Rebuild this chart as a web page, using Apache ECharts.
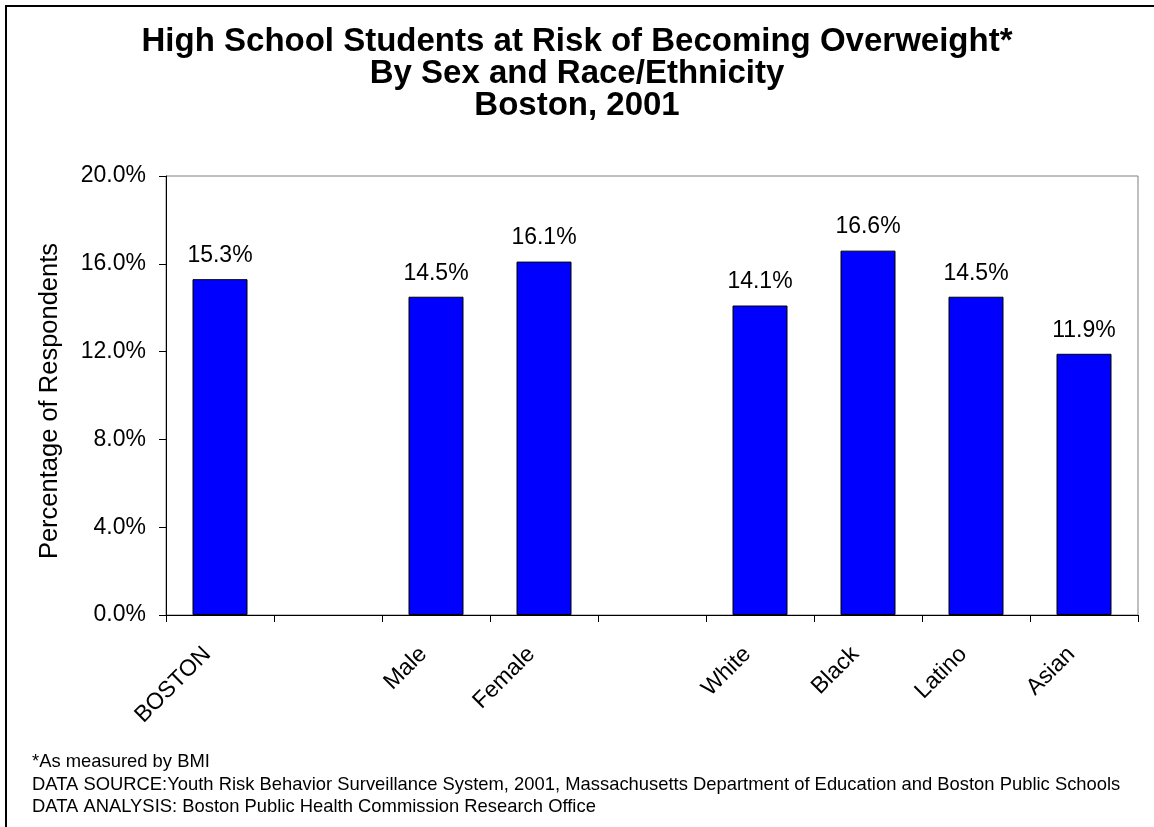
<!DOCTYPE html>
<html><head><meta charset="utf-8">
<script src="https://cdn.jsdelivr.net/npm/echarts@6/dist/echarts.min.js"></script>
<style>html,body{margin:0;padding:0;background:#fff}#c{width:1154px;height:827px}</style>
</head><body><div id="c"></div>
<script>
var categories = ['BOSTON', '', 'Male', 'Female', '', 'White', 'Black', 'Latino', 'Asian'];
var values = [15.3, null, 14.5, 16.1, null, 14.1, 16.6, 14.5, 11.9];
var titleLines = ['High School Students at Risk of Becoming Overweight*', 'By Sex and Race/Ethnicity', 'Boston, 2001'];
var footnotes = ['*As measured by BMI',
  'DATA SOURCE:Youth Risk Behavior Surveillance System, 2001, Massachusetts Department of Education and Boston Public Schools',
  'DATA ANALYSIS: Boston Public Health Commission Research Office'];
var yAxisName = 'Percentage of Respondents';

var font = 'Liberation Sans, Arial, sans-serif';
var chart = echarts.init(document.getElementById('c'));
chart.setOption({
  animation: false,
  backgroundColor: '#fff',
  title: {
    text: titleLines.join('\n'),
    left: 'center', top: 21,
    textStyle: {fontFamily: font, fontSize: 33, fontWeight: 'bold', color: '#000', lineHeight: 32}
  },
  graphic: [
    {type: 'rect', shape: {x: 6, y: 6, width: 1200, height: 900}, style: {fill: 'none', stroke: '#000', lineWidth: 2}, silent: true},
    {type: 'text', left: 32, top: 751, style: {text: footnotes.join('\n'), fontFamily: font, fontSize: 18.4, lineHeight: 22.5, fill: '#000'}}
  ],
  grid: {left: 166, right: 16, top: 176, bottom: 212, show: true, borderColor: '#808080', borderWidth: 1, backgroundColor: '#fff'},
  xAxis: {
    type: 'category', data: categories,
    axisLine: {lineStyle: {color: '#000', width: 1}},
    axisTick: {show: true, length: 7, lineStyle: {color: '#000'}},
    axisLabel: {rotate: 45, fontFamily: font, fontSize: 23, color: '#000', margin: 23, interval: 0, padding: [0, 18, 18, 0]}
  },
  yAxis: {
    type: 'value', min: 0, max: 20, interval: 4,
    name: yAxisName, nameLocation: 'middle', nameGap: 103, nameRotate: 90,
    nameTextStyle: {fontFamily: font, fontSize: 25.5, color: '#000', padding: [0, 11, 0, 0]},
    axisLine: {show: true, lineStyle: {color: '#000'}},
    axisTick: {show: true, length: 7, lineStyle: {color: '#000'}},
    splitLine: {show: false},
    axisLabel: {formatter: function (v) { return v.toFixed(1) + '%'; }, fontFamily: font, fontSize: 23, color: '#000', margin: 20}
  },
  series: [{
    type: 'bar', data: values, barWidth: 55,
    itemStyle: {color: '#0000FF', borderColor: '#000', borderWidth: 1},
    label: {show: true, position: 'top', distance: 12, formatter: function (p) { return p.value.toFixed(1) + '%'; },
      fontFamily: font, fontSize: 23, color: '#000'}
  }]
});
</script></body></html>
